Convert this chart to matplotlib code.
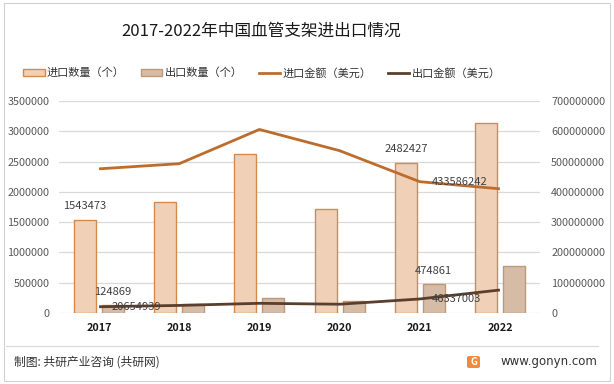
import matplotlib
matplotlib.use("Agg")
import matplotlib.pyplot as plt
import numpy as np
from matplotlib.patches import Rectangle, FancyBboxPatch
from matplotlib.lines import Line2D

plt.rcParams['font.family'] = ['Noto Sans CJK SC', 'DejaVu Sans']

years = ["2017", "2018", "2019", "2020", "2021", "2022"]
import_qty = [1543473, 1833000, 2630000, 1717000, 2482427, 3140000]
export_qty = [124869, 149000, 248000, 199000, 474861, 778000]
import_amt = [476000000, 493000000, 606000000, 536000000, 433586242, 410000000]
export_amt = [20654939, 25000000, 32000000, 29000000, 46337003, 76000000]

left_ticks = ["0", "500000", "1000000", "1500000", "2000000", "2500000", "3000000", "3500000"]
right_ticks = ["0", "100000000", "200000000", "300000000", "400000000",
               "500000000", "600000000", "700000000"]
# which years carry data labels, per series
lab_imp_qty = [0, 4]
lab_exp_qty = [0, 4]
lab_imp_amt = [4]
lab_exp_amt = [0, 4]

c_imp_fill, c_imp_edge = "#f0d1b7", "#d38a4d"
c_exp_fill, c_exp_edge = "#d6bca6", "#bf9878"
c_imp_line, c_exp_line = "#bd6c2c", "#5b3f2e"
txt = "#404040"

W, H = 614, 384
fig = plt.figure(figsize=(W / 100, H / 100), dpi=100)
ax = fig.add_axes([59 / W, 71 / H, 481 / W, 212 / H])
ax2 = ax.twinx()

x = np.arange(len(years))
bw, off = 0.274, 0.174
ax.bar(x - off, import_qty, bw, color=c_imp_fill, edgecolor=c_imp_edge, linewidth=1, zorder=2)
ax.bar(x + off, export_qty, bw, color=c_exp_fill, edgecolor=c_exp_edge, linewidth=1, zorder=2)
ax.set_xlim(-0.5, len(years) - 0.5)
ax.set_ylim(0, 3500000)
ax.set_yticks(np.linspace(0, 3500000, len(left_ticks)))
ax.set_yticklabels(left_ticks)
ax.grid(axis='y', color="#d9d9d9", linewidth=0.9, zorder=0)
ax.set_axisbelow(True)
ax.set_xticks(x)
ax.set_xticklabels(years, fontweight='bold', fontsize=8, color="#1a1a1a")

ax2.plot(x, import_amt, color=c_imp_line, linewidth=2, solid_capstyle='butt', zorder=3)
ax2.plot(x, export_amt, color=c_exp_line, linewidth=2, solid_capstyle='butt', zorder=3)
ax2.set_ylim(0, 700000000)
ax2.set_yticks(np.linspace(0, 700000000, len(right_ticks)))
ax2.set_yticklabels(right_ticks)

for a in (ax, ax2):
    for s in a.spines.values():
        s.set_visible(False)
    a.tick_params(length=0, labelsize=7.8, labelcolor="#595959")
ax.tick_params(axis='x', pad=7)
ax.tick_params(axis='y', pad=7)
ax2.tick_params(axis='y', pad=8)
ax.tick_params(axis='x', labelcolor="#1a1a1a")
ax.set_zorder(ax2.get_zorder() - 1)
ax.patch.set_visible(False)

for i in lab_imp_qty:
    ax.annotate(str(import_qty[i]), (x[i] - off, import_qty[i]), xytext=(0, 6),
                textcoords='offset points', ha='center', va='bottom', fontsize=8, color=txt)
for i in lab_exp_qty:
    ax.annotate(str(export_qty[i]), (x[i] + off, export_qty[i]), xytext=(0, 6),
                textcoords='offset points', ha='center', va='bottom', fontsize=8, color=txt)
for i in lab_imp_amt:
    ax2.annotate(str(import_amt[i]), (x[i], import_amt[i]), xytext=(9, 0),
                 textcoords='offset points', ha='left', va='center', fontsize=8, color=txt)
for i in lab_exp_amt:
    ax2.annotate(str(export_amt[i]), (x[i], export_amt[i]), xytext=(9, 0),
                 textcoords='offset points', ha='left', va='center', fontsize=8, color=txt)

fig.text(261 / W, 1 - 31 / H, "2017-2022年中国血管支架进出口情况", ha='center', va='center',
         fontsize=12, color="#1a1a1a")

handles = [
    Rectangle((0, 0), 1, 1, facecolor=c_imp_fill, edgecolor=c_imp_edge, linewidth=1),
    Rectangle((0, 0), 1, 1, facecolor=c_exp_fill, edgecolor=c_exp_edge, linewidth=1),
    Line2D([], [], color=c_imp_line, linewidth=2),
    Line2D([], [], color=c_exp_line, linewidth=2),
]
labels = ["进口数量（个）", "出口数量（个）", "进口金额（美元）", "出口金额（美元）"]
fig.legend(handles, labels, loc='center', bbox_to_anchor=(262 / W, 1 - 73 / H), ncol=4,
           frameon=False, fontsize=8, handlelength=1.9, handleheight=0.7,
           handletextpad=0.2, columnspacing=1.5, labelcolor="#333333")

# footer
fig.add_artist(Line2D([6 / W, 598 / W], [1 - 346 / H, 1 - 346 / H], color="#d9d9d9",
                      linewidth=0.8, transform=fig.transFigure))
fig.text(14 / W, 1 - 362 / H, "制图: 共研产业咨询 (共研网)", ha='left', va='center',
         fontsize=8.5, color="#333333")
fig.text(597 / W, 1 - 362 / H, "www.gonyn.com", ha='right', va='center',
         fontsize=8.5, color="#333333", family=['DejaVu Sans'])
fig.add_artist(FancyBboxPatch((467 / W, 1 - 368 / H), 13 / W, 12 / H,
                              boxstyle="round,pad=0,rounding_size=0.004",
                              facecolor="#f08a3c", edgecolor='none',
                              transform=fig.transFigure))
fig.text(473.5 / W, 1 - 362 / H, "G", ha='center', va='center', fontsize=7,
         fontweight='bold', color="white")

# outer border
fig.add_artist(Rectangle((4 / W, 3 / H), 606 / W, 378 / H, fill=False,
                         edgecolor="#d0d0d0", linewidth=0.8, transform=fig.transFigure))

fig.savefig("out.png", dpi=100)
